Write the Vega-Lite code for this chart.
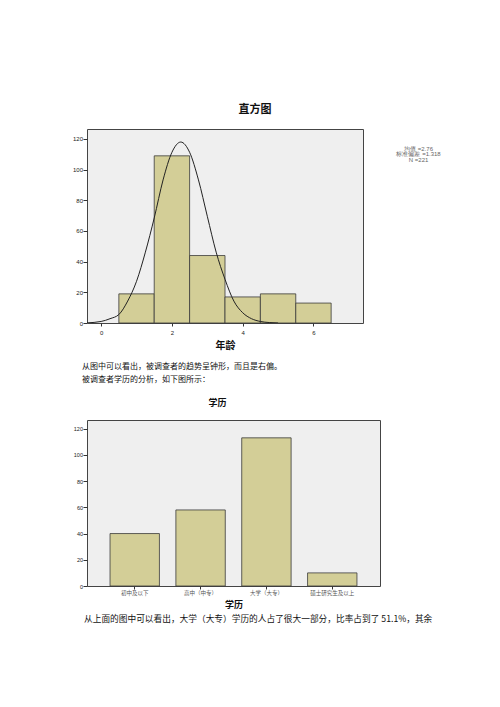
{
  "$schema": "https://vega.github.io/schema/vega-lite/v6.json",
  "background": "white",
  "padding": {"left": 71, "top": 103, "right": 5, "bottom": 5},
  "datasets": {
    "hist": [
      {"lo": 0.5, "hi": 1.5, "count": 19},
      {"lo": 1.5, "hi": 2.5, "count": 109},
      {"lo": 2.5, "hi": 3.5, "count": 44},
      {"lo": 3.5, "hi": 4.5, "count": 17},
      {"lo": 4.5, "hi": 5.5, "count": 19},
      {"lo": 5.5, "hi": 6.5, "count": 13}
    ],
    "curve": [
      {"age": -0.4, "freq": 0.1},
      {"age": 0, "freq": 1},
      {"age": 0.25, "freq": 2.8},
      {"age": 0.5, "freq": 5.5},
      {"age": 0.75, "freq": 14.3},
      {"age": 1, "freq": 27.2},
      {"age": 1.25, "freq": 46.2},
      {"age": 1.5, "freq": 68.5},
      {"age": 1.75, "freq": 93.3},
      {"age": 2, "freq": 111.3},
      {"age": 2.25, "freq": 118},
      {"age": 2.5, "freq": 111.3},
      {"age": 2.75, "freq": 93.3},
      {"age": 3, "freq": 69.6},
      {"age": 3.25, "freq": 46.2},
      {"age": 3.5, "freq": 28.5},
      {"age": 3.75, "freq": 14.3},
      {"age": 4, "freq": 6.7},
      {"age": 4.25, "freq": 2.8},
      {"age": 4.5, "freq": 1},
      {"age": 4.75, "freq": 0.3},
      {"age": 5, "freq": 0}
    ],
    "stats": [
      {"label": "均值 =2.76\n标准偏差 =1.318\nN =221"}
    ],
    "edu": [
      {"level": "初中及以下", "count": 40},
      {"level": "高中（中专）", "count": 58},
      {"level": "大学（大专）", "count": 113},
      {"level": "硕士研究生及以上", "count": 10}
    ],
    "para1": [
      {"line": 1, "text": "从图中可以看出，被调查者的趋势呈钟形，而且是右偏。"},
      {"line": 2, "text": "被调查者学历的分析，如下图所示："}
    ],
    "para2": [
      {"line": 1, "text": "从上面的图中可以看出，大学（大专）学历的人占了很大一部分，比率占到了 51.1%，其余"}
    ]
  },
  "vconcat": [
    {
      "width": 276,
      "height": 194,
      "title": {"text": "直方图", "fontSize": 11, "anchor": "middle", "dx": 30, "offset": 14},
      "layer": [
        {
          "data": {"name": "hist"},
          "mark": {"type": "rect", "fill": "#d3ce97", "stroke": "#3a3a3a", "strokeWidth": 0.8},
          "encoding": {
            "x": {"field": "lo", "type": "quantitative", "title": "年龄",
                  "scale": {"domain": [-0.4, 7.4], "nice": false, "zero": false},
                  "axis": {"values": [0, 2, 4, 6], "tickSize": 3, "labelPadding": 3, "titleFontSize": 10, "titlePadding": 5}},
            "x2": {"field": "hi"},
            "y": {"field": "count", "type": "quantitative", "title": null,
                  "scale": {"domain": [0, 126.5], "nice": false},
                  "axis": {"values": [0, 20, 40, 60, 80, 100, 120], "tickSize": 4, "labelPadding": 0.5, "labelOverlap": false}},
            "y2": {"datum": 0}
          }
        },
        {
          "data": {"name": "curve"},
          "mark": {"type": "line", "interpolate": "monotone", "color": "#222", "strokeWidth": 1, "clip": true},
          "encoding": {
            "x": {"field": "age", "type": "quantitative", "title": "年龄",
                  "axis": {"values": [0, 2, 4, 6], "tickSize": 3, "labelPadding": 3, "titleFontSize": 10, "titlePadding": 5}},
            "y": {"field": "freq", "type": "quantitative", "title": null,
                  "axis": {"values": [0, 20, 40, 60, 80, 100, 120], "tickSize": 4, "labelPadding": 0.5, "labelOverlap": false}}
          }
        },
        {
          "data": {"name": "stats"},
          "mark": {"type": "text", "lineBreak": "\n", "fontSize": 6, "lineHeight": 5.5, "color": "#666", "align": "center", "baseline": "middle", "font": "Liberation Sans"},
          "encoding": {
            "x": {"datum": 8.97, "type": "quantitative",
                  "axis": {"values": [0, 2, 4, 6], "tickSize": 3, "labelPadding": 3, "titleFontSize": 10, "titlePadding": 5}},
            "y": {"datum": 113.5, "type": "quantitative",
                  "axis": {"values": [0, 20, 40, 60, 80, 100, 120], "tickSize": 4, "labelPadding": 0.5, "labelOverlap": false}},
            "text": {"field": "label"}
          }
        }
      ]
    },
    {
      "width": 420,
      "height": 37,
      "view": {"stroke": null, "fill": null},
      "data": {"name": "para1"},
      "mark": {"type": "text", "align": "left", "baseline": "middle", "fontSize": 8, "color": "#111", "dx": -5, "dy": 2},
      "encoding": {
        "x": {"datum": 0, "type": "quantitative", "scale": {"domain": [0, 1]}, "axis": null},
        "y": {"field": "line", "type": "ordinal", "axis": null, "scale": {"padding": 1.35}},
        "text": {"field": "text"}
      }
    },
    {
      "width": 293,
      "height": 166,
      "title": {"text": "学历", "fontSize": 9, "anchor": "middle", "dx": -16, "offset": 12},
      "data": {"name": "edu"},
      "mark": {"type": "bar", "fill": "#d3ce97", "stroke": "#3a3a3a", "strokeWidth": 0.8},
      "encoding": {
        "x": {"field": "level", "type": "nominal", "sort": null, "title": "学历",
              "scale": {"paddingInner": 0.25, "paddingOuter": 0.35},
              "axis": {"labelAngle": 0, "labelFont": "Noto Sans CJK SC", "labelFontSize": 5.5, "labelColor": "#555", "tickSize": 3, "labelPadding": 1, "titleFontSize": 9, "titlePadding": 5}},
        "y": {"field": "count", "type": "quantitative", "title": null,
              "scale": {"domain": [0, 126.6], "nice": false},
              "axis": {"values": [0, 20, 40, 60, 80, 100, 120], "labelFontSize": 5.5, "tickSize": 4, "labelPadding": 0.5}}
      }
    },
    {
      "width": 420,
      "height": 6,
      "view": {"stroke": null, "fill": null},
      "data": {"name": "para2"},
      "mark": {"type": "text", "align": "left", "baseline": "middle", "fontSize": 8.7, "color": "#111", "dx": -3},
      "encoding": {
        "x": {"datum": 0, "type": "quantitative", "scale": {"domain": [0, 1]}, "axis": null},
        "y": {"field": "line", "type": "ordinal", "axis": null},
        "text": {"field": "text"}
      }
    }
  ],
  "spacing": 30,
  "bounds": "flush",
  "config": {
    "view": {"stroke": "#444", "strokeWidth": 1, "fill": "#efefef"},
    "axis": {
      "labelFont": "Liberation Sans", "labelFontSize": 6, "labelColor": "#222", "labelOverlap": false,
      "tickColor": "#333", "domain": false, "grid": false,
      "titleFont": "Noto Sans CJK SC", "titleFontWeight": "bold", "titleColor": "#111"
    },
    "title": {"font": "Noto Sans CJK SC", "fontWeight": "bold", "color": "#111"},
    "text": {"font": "Noto Sans CJK SC"}
  }
}
